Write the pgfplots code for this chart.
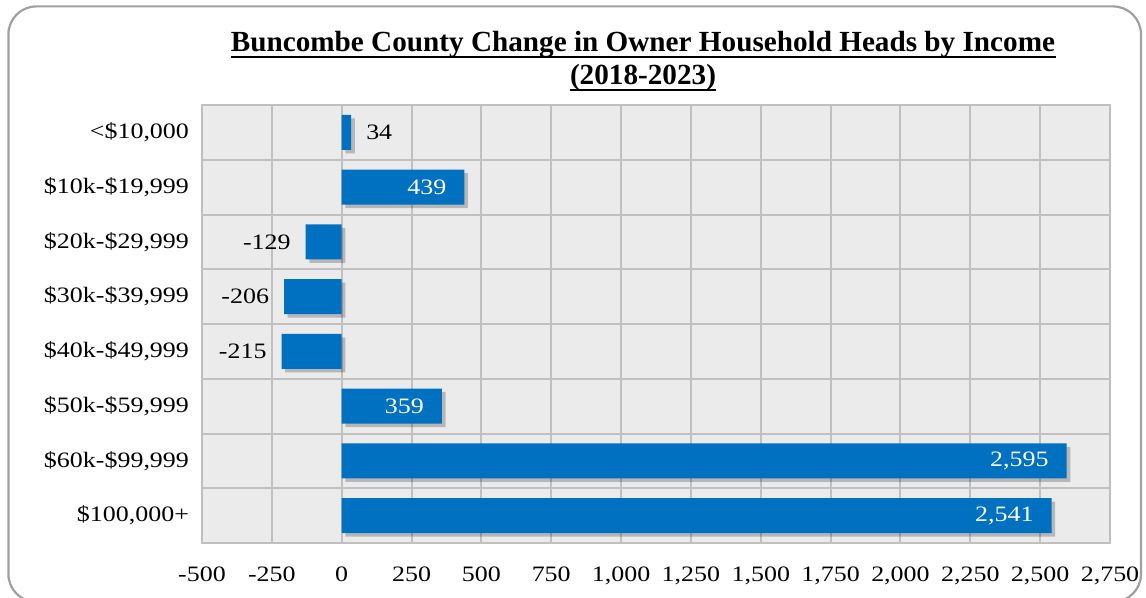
\documentclass[border=0pt]{standalone}
\usepackage{pgfplots}
\pgfplotsset{compat=1.18}
\usepackage{fontspec}
\setmainfont{Liberation Serif}[FakeStretch=1.18]
\newfontfamily\titlefont{Liberation Serif}
\usetikzlibrary{shadows}
\definecolor{barblue}{HTML}{0070C0}
\definecolor{gridgray}{HTML}{C0C0C0}
\definecolor{bggray}{HTML}{EBEBEB}
\definecolor{bordergray}{HTML}{A0A0A0}

\pgfplotstableread{
y val
0 34
1 439
2 -129
3 -206
4 -215
5 359
6 2595
7 2541
}\datatable

\begin{document}
\begin{tikzpicture}[x=1pt,y=1pt]
\useasboundingbox (0,0) rectangle (573,299);
\draw[line width=1.1pt, color=bordergray, rounded corners=14pt] (4.2,-2) rectangle (570.5,295.8);
\node[anchor=base, inner sep=0pt, font=\titlefont\fontsize{14.6}{16}\selectfont\bfseries] (t1) at (321.5,273) {Buncombe County Change in Owner Household Heads by Income};
\node[anchor=base, inner sep=0pt, font=\titlefont\fontsize{14.6}{16}\selectfont\bfseries] (t2) at (321.5,256.5) {(2018-2023)};
\draw[line width=0.9pt] ([yshift=-2.6pt]t1.base west) -- ([yshift=-2.6pt]t1.base east);
\draw[line width=0.9pt] ([yshift=-2.6pt]t2.base west) -- ([yshift=-2.6pt]t2.base east);
\begin{axis}[
  at={(101pt,27.5pt)}, anchor=south west,
  scale only axis, width=454pt, height=219pt,
  xmin=-500, xmax=2750, ymin=-0.5, ymax=7.5, y dir=reverse,
  xtick={-500,-250,...,2750},
  ytick={0,...,7},
  yticklabels={{<\$10,000},{\$10k-\$19,999},{\$20k-\$29,999},{\$30k-\$39,999},{\$40k-\$49,999},{\$50k-\$59,999},{\$60k-\$99,999},{\$100,000+}},
  minor ytick={0.5,1.5,...,6.5},
  xmajorgrids, yminorgrids,
  grid style={gridgray, line width=1pt},
  minor grid style={gridgray, line width=1pt},
  axis line style={gridgray, line width=1pt},
  axis background/.style={fill=bggray},
  major tick length=0pt, minor tick length=0pt,
  /pgf/number format/assume math mode=true,
  /pgf/number format/1000 sep={,},
  ticklabel style={font=\fontsize{11}{13}\selectfont},
  xticklabel style={yshift=-8.5pt},
  yticklabel style={xshift=-3pt},
  bar width=17.5pt, bar shift=0pt,
]
\addplot[xbar, fill=barblue, draw=none,
  drop shadow={shadow xshift=1.8pt, shadow yshift=-1.8pt, opacity=0.22, fill=black}]
  table[x=val, y=y] {\datatable};
% label: outside right
\addplot[xbar, fill=none, draw=none, nodes near coords,
  nodes near coords align={horizontal},
  every node near coord/.append style={anchor=west, black, xshift=4pt, font=\fontsize{11}{13}\selectfont}]
  coordinates {(34,0)};
% labels: inside end, white
\addplot[xbar, fill=none, draw=none, nodes near coords,
  nodes near coords align={horizontal},
  every node near coord/.append style={anchor=east, white, xshift=-5.5pt, font=\fontsize{11}{13}\selectfont}]
  coordinates {(439,1) (359,5) (2595,6) (2541,7)};
% labels: negative, outside left
\addplot[xbar, fill=none, draw=none, nodes near coords,
  nodes near coords align={horizontal},
  every node near coord/.append style={anchor=east, black, xshift=-4pt, font=\fontsize{11}{13}\selectfont}]
  coordinates {(-129,2) (-206,3) (-215,4)};
\end{axis}
\end{tikzpicture}
\end{document}
